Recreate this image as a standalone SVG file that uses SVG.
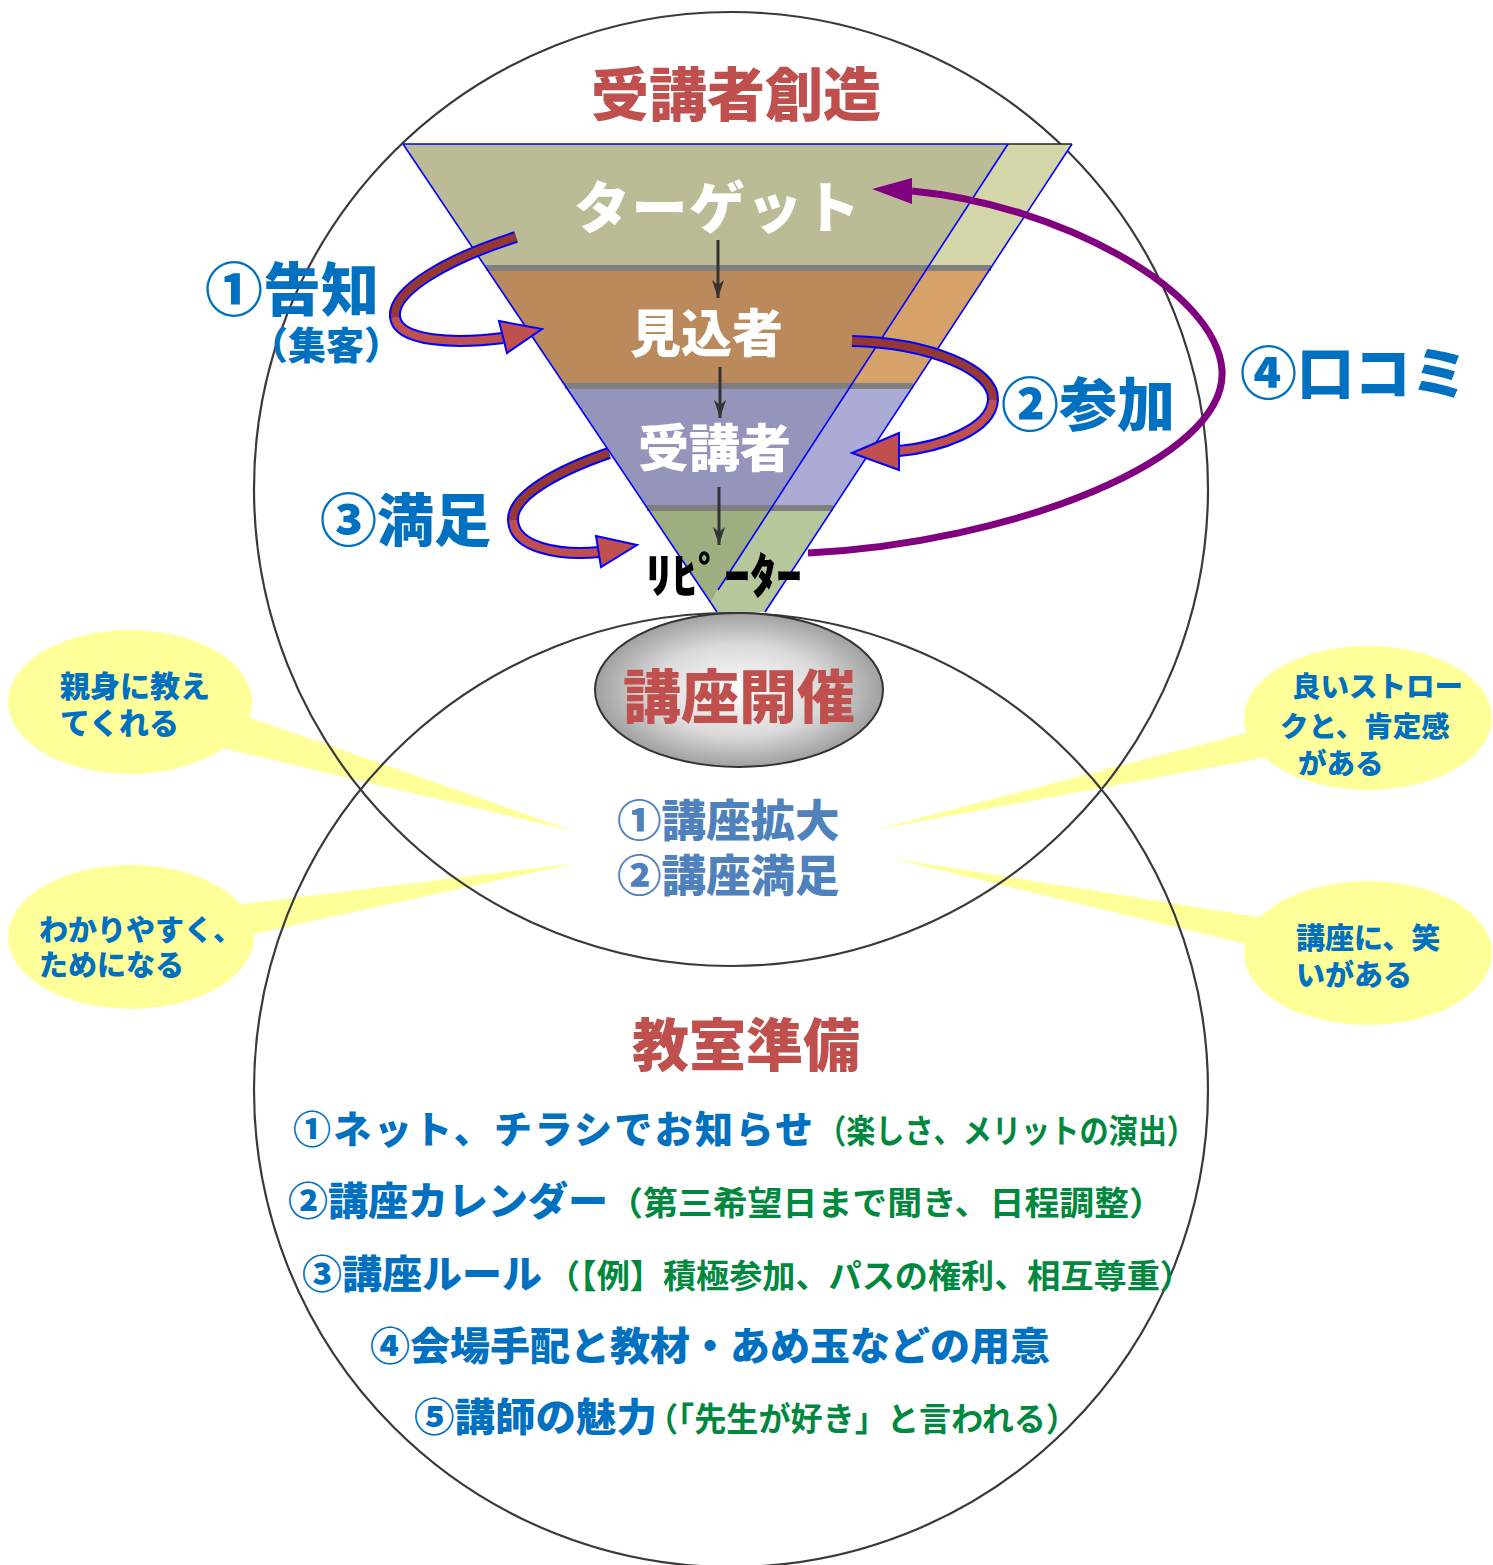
<svg xmlns="http://www.w3.org/2000/svg" width="1493" height="1565" viewBox="0 0 1493 1565">
<style>
.circ{fill:none;stroke:#3a3a3a;stroke-width:2.2}
.edge{fill:none;stroke:#0000FF;stroke-width:1.6}
.sep{stroke:#7f7f7f;stroke-width:6}
.down{stroke:#333;stroke-width:3;marker-end:url(#stealth)}
.rib-o{fill:none;stroke:#0000FF;stroke-width:12}
.rib-d{fill:none;stroke:#953735;stroke-width:8}
.rib-l{fill:none;stroke:#C0504D;stroke-width:8}
.head{fill:#C0504D;stroke:#0000FF;stroke-width:2}
.bub{fill:#FFFF99}
text{font-family:"Noto Sans CJK JP","Noto Sans CJK SC",sans-serif;font-weight:900}
.red{fill:#C0504D}
.blue{fill:#0070C0}
.steel{fill:#4F81BD}
.green{fill:#00893E;font-weight:700}
.white{fill:#ffffff}
</style>
<defs>
<marker id="stealth" markerWidth="20" markerHeight="14" refX="18" refY="7" orient="auto" markerUnits="userSpaceOnUse">
<path d="M0,1 L18,7 L0,13 L5,7 Z" fill="#333"/>
</marker>
<radialGradient id="gray" cx="50%" cy="50%" r="50%">
<stop offset="0" stop-color="#ffffff"/>
<stop offset="0.6" stop-color="#d9d9d9"/>
<stop offset="1" stop-color="#a0a0a0"/>
</radialGradient>
</defs>
<rect width="1493" height="1565" fill="#ffffff"/>

<g id="bubble-shinmi">
<ellipse class="bub" cx="130" cy="702" rx="122" ry="72"/>
<polygon class="bub" points="245,716 577,832 222,748"/>
<text class="blue" x="60" y="697" font-size="30">親身に教え</text>
<text class="blue" x="60" y="734" font-size="30">てくれる</text>
</g>
<g id="bubble-wakari">
<ellipse class="bub" cx="131" cy="937" rx="123" ry="72"/>
<polygon class="bub" points="235,905 577,863 250,935"/>
<text class="blue" x="39" y="941" font-size="29">わかりやすく、</text>
<text class="blue" x="39" y="976" font-size="29">ためになる</text>
</g>
<g id="bubble-stroke">
<ellipse class="bub" cx="1368" cy="718" rx="124" ry="72"/>
<polygon class="bub" points="1250,732 874,830 1268,757"/>
<text class="blue" x="1292" y="697" font-size="28.5">良いストロー</text>
<text class="blue" x="1280" y="737" font-size="28.5">クと、肯定感</text>
<text class="blue" x="1298" y="774" font-size="28.5">がある</text>
</g>
<g id="bubble-warai">
<ellipse class="bub" cx="1368" cy="953" rx="124" ry="72"/>
<polygon class="bub" points="1265,918 890,858 1250,945"/>
<text class="blue" x="1296" y="949" font-size="29">講座に、笑</text>
<text class="blue" x="1296" y="986" font-size="29">いがある</text>
</g>

<g id="circle-top"><circle class="circ" cx="731" cy="489" r="477"/></g>
<g id="circle-bottom"><circle class="circ" cx="731" cy="1090" r="477"/></g>

<g id="funnel">
<polygon points="403,144 1008,144 927.4,268 486.2,268" fill="#BBBB96"/>
<polygon points="1008,144 1072,144 990.7,268 927.4,268" fill="#D5D5AA"/>
<polygon points="486.2,268 927.4,268 850.7,386 565.4,386" fill="#BA8A5C"/>
<polygon points="927.4,268 990.7,268 913.2,386 850.7,386" fill="#D6A26A"/>
<polygon points="565.4,386 850.7,386 771.4,508 647.2,508" fill="#9595BB"/>
<polygon points="850.7,386 913.2,386 833.2,508 771.4,508" fill="#ABABD5"/>
<polygon points="647.2,508 771.4,508 718,590 711,602" fill="#9EAE80"/>
<polygon points="771.4,508 833.2,508 765,612 717,612 711,602 718,590" fill="#B6C79B"/>
<line class="sep" x1="486" y1="268" x2="991" y2="268"/>
<line class="sep" x1="565" y1="386" x2="913" y2="386"/>
<line class="sep" x1="647" y1="508" x2="833" y2="508"/>
<line class="edge" x1="403" y1="144" x2="717" y2="612"/>
<line class="edge" x1="403" y1="144" x2="1008" y2="144"/>
<line x1="1008" y1="144" x2="1072" y2="144" stroke="#222" stroke-width="1.6"/>
<line class="edge" x1="1008" y1="144" x2="718" y2="590"/>
<line class="edge" x1="1072" y1="144" x2="765" y2="612"/>
</g>

<g id="node-target"><text class="white" x="574" y="228" font-size="56" textLength="286" lengthAdjust="spacing">ターゲット</text></g>
<g id="node-prospect"><text class="white" x="630" y="352" font-size="51">見込者</text></g>
<g id="node-attendee"><text class="white" x="638" y="467" font-size="51">受講者</text></g>

<g id="connectors">
<line class="down" x1="718" y1="240" x2="718" y2="298"/>
<line class="down" x1="720" y1="367" x2="720" y2="418"/>
<line class="down" x1="719" y1="487" x2="719" y2="545"/>

<path class="rib-o" d="M516,237 C450,258 392,290 395,317 C398,342 455,344 503,338"/>
<path class="rib-d" d="M516,237 C450,258 392,290 395,317"/>
<path class="rib-l" d="M395,317 C398,342 455,344 503,338"/>
<polygon class="head" points="499,321 542,329 507,353"/>

<path class="rib-o" d="M852,341 C930,343 995,370 993,400 C991,430 940,447 899,451"/>
<path class="rib-d" d="M852,341 C930,343 995,370 993,400"/>
<path class="rib-l" d="M993,400 C991,430 940,447 899,451"/>
<polygon class="head" points="899,433 852,453 899,470"/>

<path class="rib-o" d="M609,453 C560,470 512,495 513,520 C514,548 560,556 600,552"/>
<path class="rib-d" d="M609,453 C560,470 512,495 513,520"/>
<path class="rib-l" d="M513,520 C514,548 560,556 600,552"/>
<polygon class="head" points="596,536 637,545 601,567"/>

<path d="M808,553 C1010,543 1228,460 1222,370 C1216,290 1060,205 912,191" fill="none" stroke="#800080" stroke-width="7"/>
<polygon points="912,178 872,189 912,204" fill="#800080"/>
</g>

<g id="node-repeater"><text x="646" y="593" font-size="48" fill="#000" textLength="156" lengthAdjust="spacingAndGlyphs">ﾘﾋﾟｰﾀｰ</text></g>

<g id="node-kaisai">
<ellipse cx="739" cy="690" rx="144" ry="77" fill="url(#gray)" stroke="#333" stroke-width="2"/>
<text class="red" x="739" y="718" font-size="58" text-anchor="middle">講座開催</text>
</g>

<g id="title-top"><text class="red" x="736" y="116" font-size="58" text-anchor="middle">受講者創造</text></g>

<g id="label-kokuchi">
<text class="blue" x="205" y="311" font-size="58">①告知</text>
<text class="blue" x="250" y="359" font-size="38">（集客）</text>
</g>
<g id="label-sanka"><text class="blue" x="1001" y="426" font-size="58">②参加</text></g>
<g id="label-kuchikomi"><text class="blue" x="1240" y="394" font-size="57">④口コミ</text></g>
<g id="label-manzoku"><text class="blue" x="320" y="541" font-size="57">③満足</text></g>

<g id="center-goals">
<text class="steel" x="617" y="837" font-size="44.5">①講座拡大</text>
<text class="steel" x="617" y="892" font-size="44.5">②講座満足</text>
</g>

<g id="title-bottom"><text class="red" x="746" y="1066" font-size="57" text-anchor="middle">教室準備</text></g>

<g id="prep-list">
<text class="blue" x="293" y="1143" font-size="38" textLength="520" lengthAdjust="spacing">①ネット、チラシでお知らせ</text>
<text class="green" x="817" y="1143" font-size="33" textLength="379" lengthAdjust="spacingAndGlyphs">（楽しさ、メリットの演出）</text>
<text class="blue" x="288" y="1215" font-size="39" textLength="320" lengthAdjust="spacingAndGlyphs">②講座カレンダー</text>
<text class="green" x="608" y="1215" font-size="33" textLength="556" lengthAdjust="spacingAndGlyphs">（第三希望日まで聞き、日程調整）</text>
<text class="blue" x="302" y="1288" font-size="39" textLength="240" lengthAdjust="spacingAndGlyphs">③講座ルール</text>
<text class="green" x="547" y="1288" font-size="33" textLength="646" lengthAdjust="spacingAndGlyphs">（【例】積極参加、パスの権利、相互尊重）</text>
<text class="blue" x="370" y="1360" font-size="39" textLength="680" lengthAdjust="spacingAndGlyphs">④会場手配と教材・あめ玉などの用意</text>
<text class="blue" x="414" y="1431" font-size="39" textLength="243" lengthAdjust="spacingAndGlyphs">⑤講師の魅力</text>
<text class="green" x="646" y="1431" font-size="33" textLength="432" lengthAdjust="spacingAndGlyphs">（「先生が好き」と言われる）</text>
</g>
</svg>
